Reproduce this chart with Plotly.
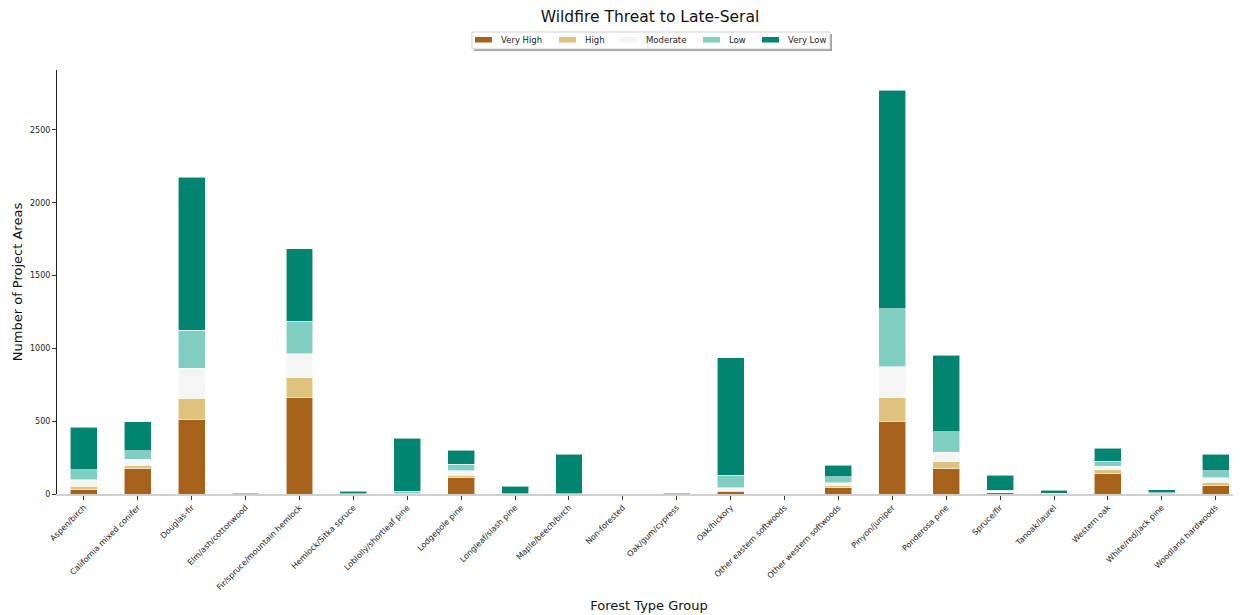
import plotly.graph_objects as go

categories = ["Aspen/birch", "California mixed conifer", "Douglas-fir", "Elm/ash/cottonwood",
              "Fir/spruce/mountain hemlock", "Hemlock/Sitka spruce", "Loblolly/shortleaf pine",
              "Lodgepole pine", "Longleaf/slash pine", "Maple/beech/birch", "Non-forested",
              "Oak/gum/cypress", "Oak/hickory", "Other eastern softwoods", "Other western softwoods",
              "Pinyon/juniper", "Ponderosa pine", "Spruce/fir", "Tanoak/laurel", "Western oak",
              "White/red/jack pine", "Woodland hardwoods"]

very_high = [30, 174, 513, 0, 666, 0, 0, 115, 0, 0, 0, 0, 14, 0, 48, 499, 172, 8, 2, 140, 0, 58]
high      = [23, 23, 146, 0, 131, 0, 0, 15, 0, 0, 0, 0, 9, 0, 12, 162, 48, 5, 0, 25, 0, 24]
moderate  = [46, 41, 206, 0, 165, 0, 3, 30, 0, 0, 0, 0, 20, 0, 18, 213, 68, 6, 0, 27, 2, 28]
low       = [66, 60, 261, 2, 226, 2, 15, 45, 2, 3, 0, 3, 87, 0, 41, 397, 138, 8, 3, 32, 8, 48]
very_low  = [295, 199, 1051, 5, 495, 16, 365, 95, 50, 270, 0, 4, 806, 0, 80, 1502, 526, 103, 20, 90, 20, 115]

series_names = ["Very High", "High", "Moderate", "Low", "Very Low"]
series_values = [very_high, high, moderate, low, very_low]
colors = ["#a6611a", "#dfc27d", "#f5f5f5", "#80cdc1", "#018571"]

x_pos = list(range(len(categories)))

# The page body adds an 8px offset, so the figure is sized/positioned to compensate.
OFF = 8
W, H = 1241 - OFF, 615 - OFF
ML, MT, MB, MR = 49, 62, 121, 0
PW, PH = W - ML - MR, H - MT - MB


def px_x(x):  # real page x -> paper
    return (x - OFF - ML) / PW


def px_y(y):  # real page y -> paper
    return (H - MB - (y - OFF)) / PH


fig = go.Figure()
for name, vals, col in zip(series_names, series_values, colors):
    fig.add_trace(go.Bar(
        x=x_pos, y=vals, name=name, width=0.5, showlegend=False,
        marker=dict(color=col, line=dict(color="rgba(255,255,255,0.7)", width=0.8)),
    ))

# Legend (matplotlib-style frame with shadow)
shapes = []
annotations = []
shapes.append(dict(type="rect", xref="paper", yref="paper",
                   x0=px_x(474), x1=px_x(832), y0=px_y(51), y1=px_y(34),
                   fillcolor="#a0a0a0", line=dict(width=0), layer="above"))
shapes.append(dict(type="rect", xref="paper", yref="paper",
                   x0=px_x(472), x1=px_x(830), y0=px_y(49), y1=px_y(32),
                   fillcolor="white", line=dict(color="#d0d0d0", width=1), layer="above"))
swatch_left = [475, 559, 620, 703, 762]
text_left = [499, 583, 644, 727, 786]
for name, col, sx, tx in zip(series_names, colors, swatch_left, text_left):
    shapes.append(dict(type="rect", xref="paper", yref="paper",
                       x0=px_x(sx), x1=px_x(sx + 17), y0=px_y(42.5), y1=px_y(37),
                       fillcolor=col, line=dict(width=0), layer="above"))
    annotations.append(dict(text=name, xref="paper", yref="paper", x=px_x(tx), y=px_y(40),
                            xanchor="left", yanchor="middle", showarrow=False,
                            font=dict(size=8.5, color="#222")))

fig.update_layout(
    barmode="stack",
    width=W, height=H,
    margin=dict(l=ML, r=MR, t=MT, b=MB, autoexpand=False),
    paper_bgcolor="white", plot_bgcolor="white",
    font=dict(family="DejaVu Sans", color="#222"),
    showlegend=False,
    shapes=shapes, annotations=annotations,
    title=dict(text="Wildfire Threat to Late-Seral", x=(650 - OFF) / W, xref="container",
               xanchor="center", y=1 - (17 - OFF) / H, yref="container", yanchor="middle",
               font=dict(size=15.5, color="#111")),
    xaxis=dict(range=[-0.5, 21.47], tickmode="array", tickvals=x_pos, ticktext=categories,
               tickangle=-45, tickfont=dict(size=8, color="#222"), ticks="outside", ticklen=4,
               tickcolor="#333", showline=True, linecolor="#d0d0d0", linewidth=1.5,
               showgrid=False, zeroline=False, automargin=False,
               title=dict(text="Forest Type Group", font=dict(size=13, color="#111"), standoff=10)),
    yaxis=dict(range=[0, 2912], tickvals=[0, 500, 1000, 1500, 2000, 2500],
               tickfont=dict(size=8, color="#222"), ticks="outside", ticklen=4, tickcolor="#333",
               showline=True, linecolor="#222", linewidth=1, showgrid=False, zeroline=False,
               automargin=False,
               title=dict(text="Number of Project Areas", font=dict(size=13, color="#111"), standoff=4)),
)

fig.write_html("out.html")
